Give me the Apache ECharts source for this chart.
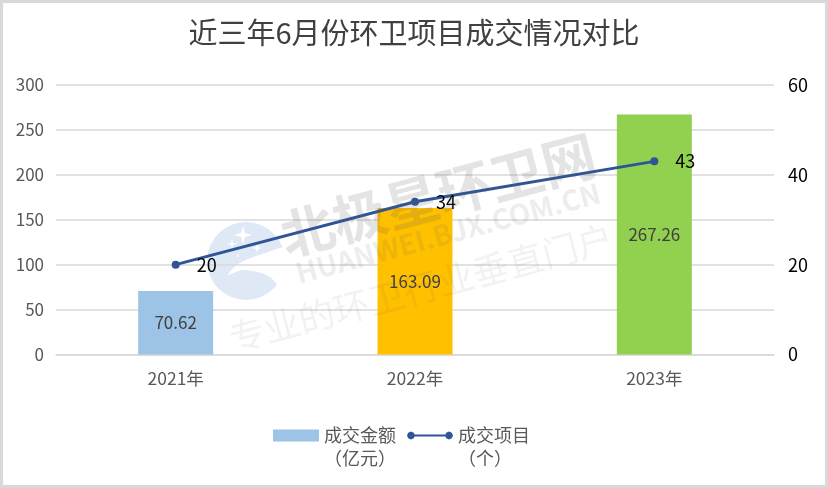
<!DOCTYPE html>
<html lang="zh">

<head>
  <meta charset="UTF-8">
  <title>近三年6月份环卫项目成交情况对比</title>
  <script src="https://cdn.jsdelivr.net/npm/echarts@6/dist/echarts.min.js"></script>
  <style>
    * {
      margin: 0;
      padding: 0;
    }

    body {
      background-color: #fff;
    }

    #chart {
      width: 828px;
      height: 488px;
    }
  </style>
</head>

<body>
  <div id="chart"></div>

  <script type="text/javascript">
    const titleText = '近三年6月份环卫项目成交情况对比'
    const years = ['2021年', '2022年', '2023年']
    const amountName = '成交金额\n（亿元）'
    const projectName = '成交项目\n（个）'
    const amounts = [70.62, 163.09, 267.26]
    const projects = [20, 34, 43]
    const barColors = ['#9DC3E6', '#FFC000', '#92D050']
    const lineColor = '#2F5597'
    const fontName = '"Noto Sans CJK SC"'

    var myChart = echarts.init(document.getElementById('chart'), null, { renderer: 'canvas' });

    // 水印文字，压在柱子上面
    var watermarkText = [
      { text: '北极星环卫网', x: 438, y: 195, size: 54, weight: 'bold', color: 'rgba(90,90,90,.16)' },
      { text: 'HUANWEI.BJX.COM.CN', x: 448, y: 233, size: 28, weight: 'bold', color: 'rgba(90,90,90,.11)' },
      { text: '专业的环卫行业垂直门户', x: 421, y: 288, size: 36, weight: 'normal', color: 'rgba(90,90,90,.08)' }
    ].map(function (w) {
      return {
        type: 'text', z: 100, silent: true, x: w.x, y: w.y, rotation: 0.262,
        style: {
          text: w.text, fill: w.color, align: 'center', verticalAlign: 'middle',
          font: w.weight + ' ' + w.size + 'px ' + fontName
        }
      };
    });

    // 水印 logo，放在网格线下面
    function star(cx, cy, r) {
      var k = r * 0.22;
      return {
        type: 'polygon', z: -9, silent: true,
        shape: { points: [[cx, cy - r], [cx + k, cy - k], [cx + r, cy], [cx + k, cy + k], [cx, cy + r], [cx - k, cy + k], [cx - r, cy], [cx - k, cy - k]] },
        style: { fill: '#fff' }
      };
    }
    var watermarkLogo = [
      { type: 'circle', z: -10, silent: true, shape: { cx: 246, cy: 261, r: 39 }, style: { fill: '#DFE9F5' } },
      {
        type: 'polygon', z: -9, silent: true,
        shape: { smooth: 0.3, points: [[292, 247], [262, 254], [238, 264], [228, 275], [242, 270], [258, 272], [270, 277], [284, 290], [296, 270]] },
        style: { fill: '#fff' }
      },
      star(243, 235, 9),
      star(232, 244, 5),
      star(257, 248, 5),
      star(238, 256, 2)
    ];

    var option = {
      animation: false,
      backgroundColor: '#fff',
      textStyle: { fontFamily: fontName },
      title: {
        text: titleText,
        left: 'center',
        top: 13,
        textStyle: { fontSize: 29, fontWeight: 'normal', color: '#404040', fontFamily: fontName }
      },
      grid: { left: 56, right: 54, top: 85, bottom: 133.5 },
      legend: {
        left: 268,
        top: 396,
        itemGap: 11,
        itemWidth: 46,
        itemHeight: 12,
        data: [
          { name: amountName, icon: 'rect' },
          // 线段两端各一个圆点，和原图图例一样
          {
            name: projectName,
            icon: 'path://M4 5H42V7H4Z M0 6L1.2 3.2L4 2L6.8 3.2L8 6L6.8 8.8L4 10L1.2 8.8Z M38 6L39.2 3.2L42 2L44.8 3.2L46 6L44.8 8.8L42 10L39.2 8.8Z M23 0L23 0Z M23 12L23 12Z',
            itemStyle: { color: lineColor, borderWidth: 0 }
          }
        ],
        // 前面空一行，让图标对齐第一行文字
        formatter: function (name) {
          return ' \n' + name;
        },
        textStyle: { fontSize: 18, color: '#595959', lineHeight: 23, align: 'center' }
      },
      xAxis: {
        type: 'category',
        data: years,
        axisTick: { show: false },
        axisLine: { lineStyle: { color: '#D9D9D9', width: 1.5 } },
        axisLabel: { fontSize: 17.5, color: '#595959', margin: 15 }
      },
      yAxis: [
        {
          type: 'value',
          min: 0,
          max: 300,
          interval: 50,
          axisLine: { show: false },
          axisTick: { show: false },
          axisLabel: { fontSize: 17, color: '#595959', margin: 12 },
          splitLine: { lineStyle: { color: '#D9D9D9', width: 1.5 } }
        },
        {
          type: 'value',
          min: 0,
          max: 60,
          interval: 20,
          axisLine: { show: false },
          axisTick: { show: false },
          axisLabel: { fontSize: 18, color: '#000', margin: 14 },
          splitLine: { show: false }
        }
      ],
      series: [
        {
          name: amountName,
          type: 'bar',
          barWidth: 75,
          itemStyle: { color: barColors[0] },
          data: amounts.map(function (v, i) {
            return { value: v, itemStyle: { color: barColors[i] } };
          }),
          label: { show: true, position: 'inside', fontSize: 17, color: '#404040' }
        },
        {
          name: projectName,
          type: 'line',
          yAxisIndex: 1,
          symbol: 'circle',
          symbolSize: 8,
          lineStyle: { color: lineColor, width: 3 },
          itemStyle: { color: lineColor },
          data: projects,
          label: { show: true, position: 'right', distance: 17, fontSize: 18, color: '#000' }
        }
      ],
      graphic: watermarkLogo.concat(watermarkText, [
        {
          type: 'rect', z: 101, silent: true,
          shape: { x: 1.5, y: 1.5, width: 825, height: 485 },
          style: { fill: 'none', stroke: '#D9D9D9', lineWidth: 3 }
        }
      ])
    };

    myChart.setOption(option);
  </script>
</body>

</html>
